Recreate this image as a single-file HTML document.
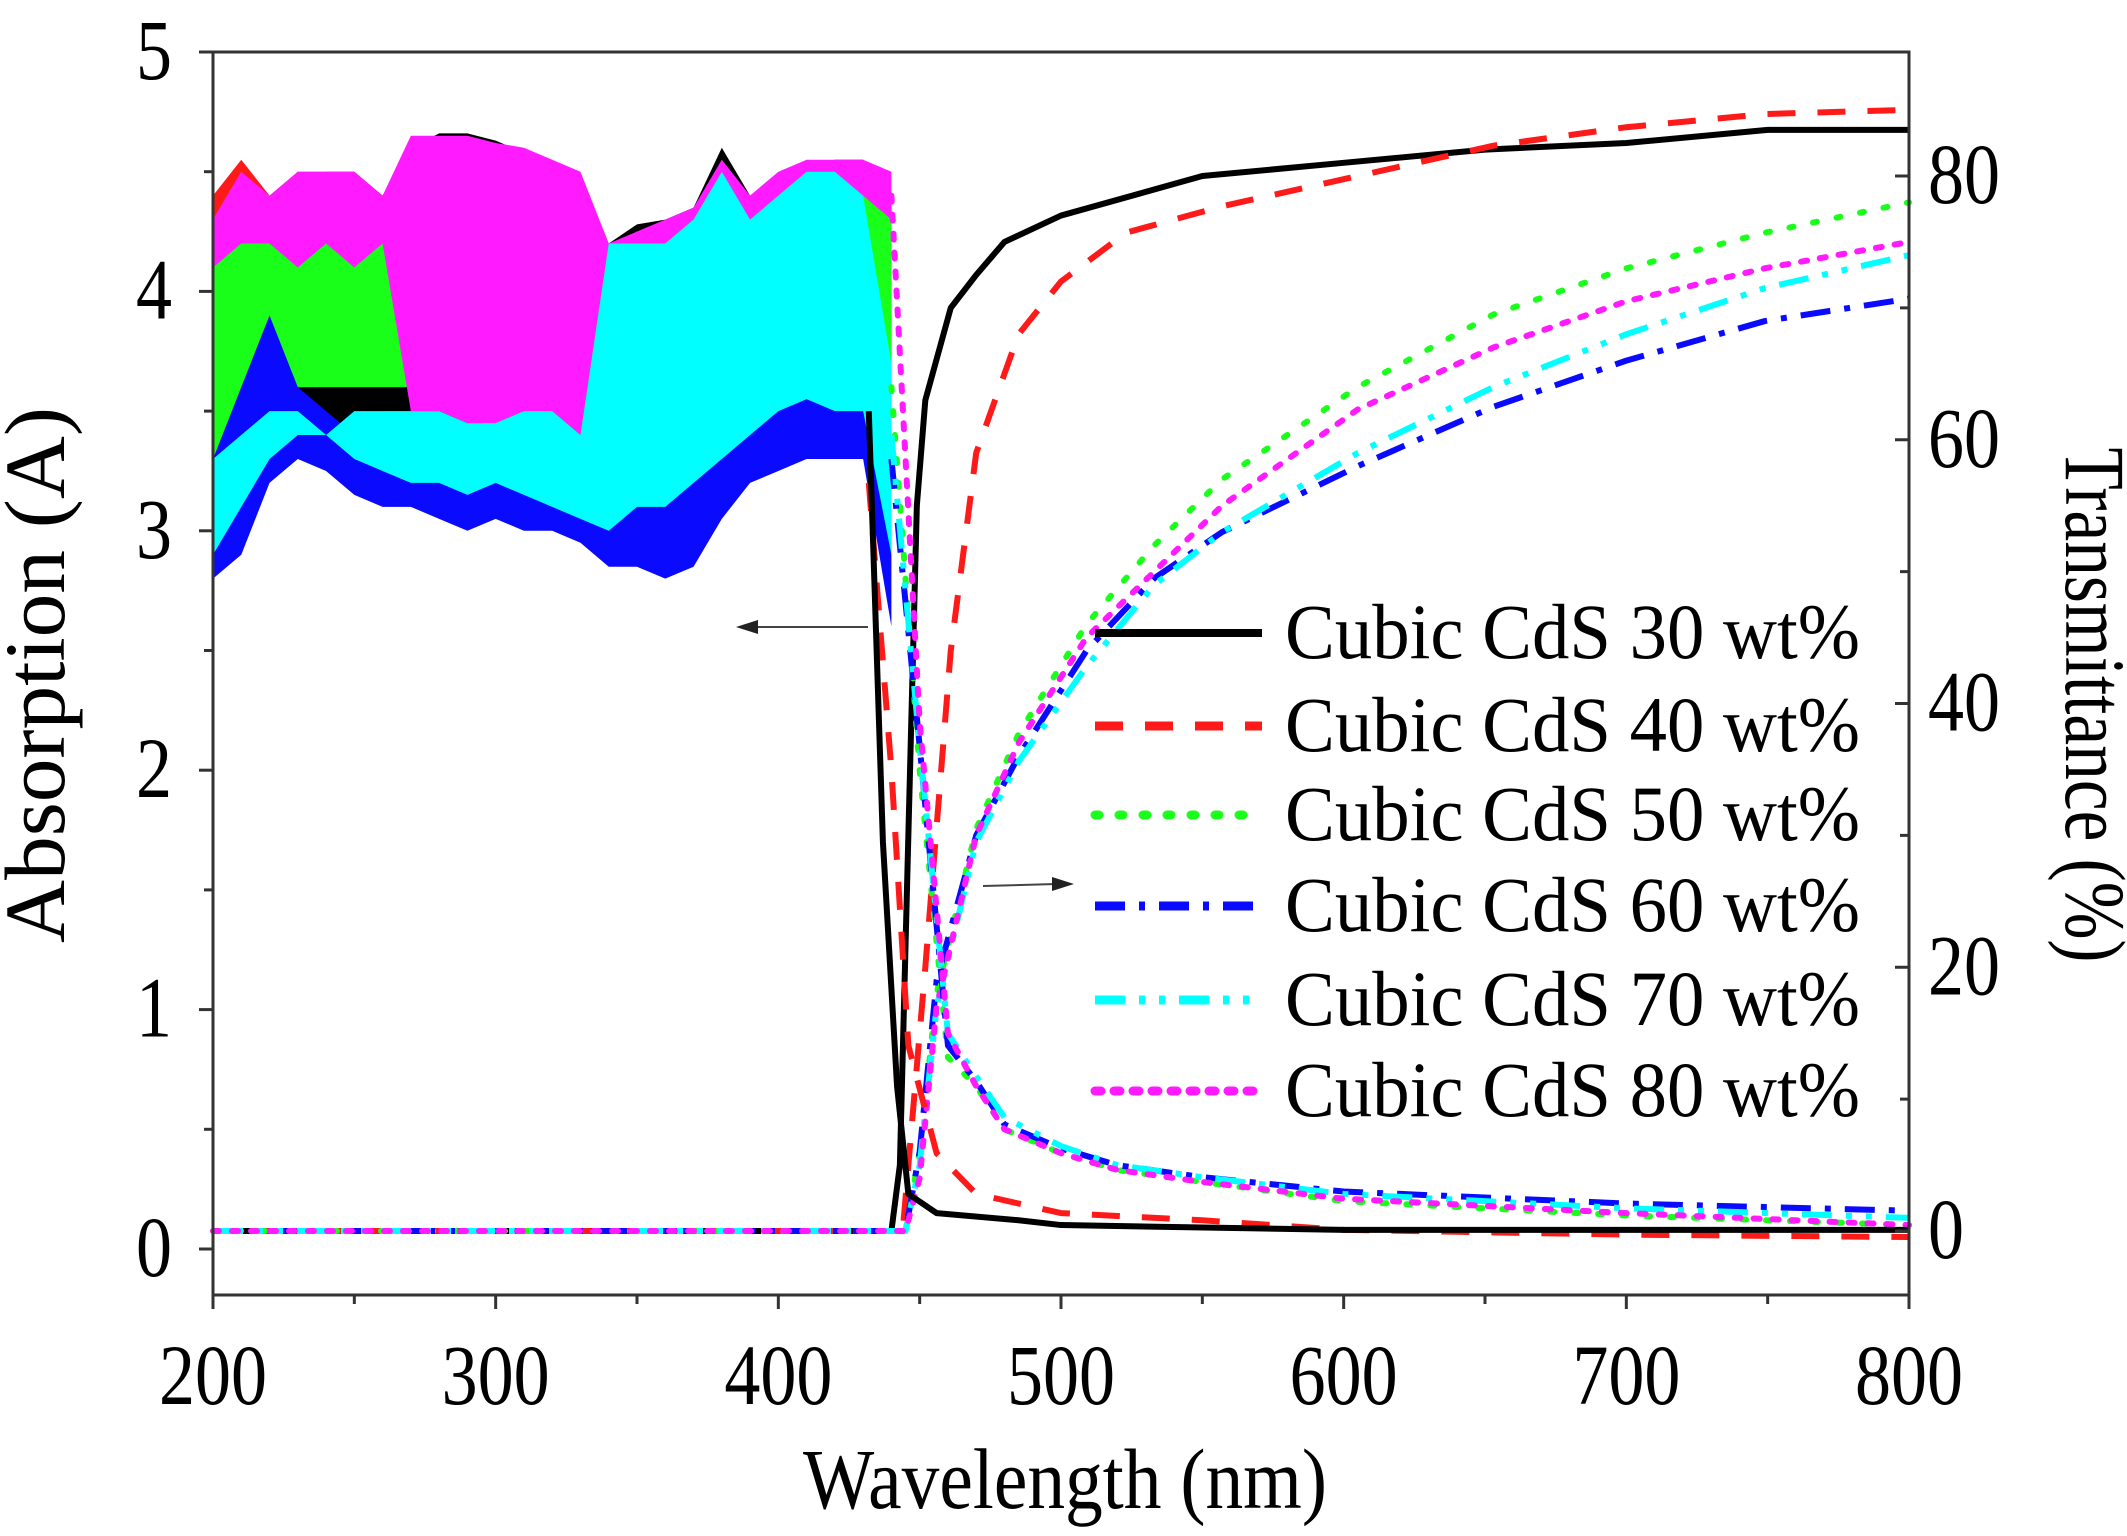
<!DOCTYPE html>
<html><head><meta charset="utf-8"><style>
html,body{margin:0;padding:0;background:#fff;}
svg{display:block;}
text{font-family:"Liberation Serif",serif;fill:#000;}
</style></head><body>
<svg id="chart" width="2127" height="1536" viewBox="0 0 2127 1536" xmlns="http://www.w3.org/2000/svg">
<g id="noise"></g>
<g id="lines"></g>
<g id="axes"></g>
<g id="legend"></g>
</svg>
<script>
const names = ["Cubic CdS 30 wt%","Cubic CdS 40 wt%","Cubic CdS 50 wt%","Cubic CdS 60 wt%","Cubic CdS 70 wt%","Cubic CdS 80 wt%"];
const xTicks = [200,300,400,500,600,700,800];
const yLeftTicks = [0,1,2,3,4,5];
const yRightTicks = [0,20,40,60,80];
// noisy absorption envelopes (A)
const noiseW = [200,210,220,230,240,250,260,270,280,290,300,310,320,330,340,350,360,370,380,390,400,410,420,430,440];
const blackLo = [3.2,3.3,3.4,3.4,3.4,3.3,3.3,3.3,3.3,3.2,3.2,3.2,3.2,3.1,3.0,3.1,3.1,3.2,3.3,3.4,3.5,3.5,3.5,3.5,3.2];
const blackHi = [4.2,4.5,4.3,4.4,4.5,4.5,4.4,4.6,4.66,4.66,4.63,4.58,4.53,4.48,4.2,4.28,4.3,4.35,4.6,4.4,4.48,4.53,4.55,4.55,4.4];
const redLo = [3.4,3.5,3.6,3.6,3.6,3.6,3.6,3.6,3.5,3.5,3.4,3.5,3.4,3.4,3.6,3.7,3.7,3.8,3.9,3.9,3.9,4.0,4.0,3.9,3.6];
const redHi = [4.4,4.55,4.4,4.5,4.5,4.5,4.4,4.6,4.6,4.6,4.6,4.55,4.5,4.45,4.15,4.25,4.25,4.3,4.5,4.35,4.45,4.5,4.5,4.5,4.3];
const greenLo = [3.3,3.4,3.5,3.6,3.6,3.6,3.6,3.6,3.6,3.6,3.6,3.6,3.6,3.6,3.6,3.8,3.8,3.8,4.0,4.0,4.0,4.0,4.0,4.0,3.6];
const greenHi = [4.3,4.5,4.35,4.45,4.5,4.5,4.4,4.6,4.6,4.6,4.55,4.5,4.5,4.4,4.15,4.25,4.25,4.3,4.55,4.35,4.45,4.5,4.5,4.5,4.3];
const magLo = [4.1,4.2,4.2,4.1,4.2,4.1,4.2,3.5,3.5,3.45,3.45,3.5,3.5,3.4,3.9,4.1,4.2,4.3,4.4,4.3,4.3,4.4,4.4,4.4,4.3];
const magHi = [4.3,4.5,4.4,4.5,4.5,4.5,4.4,4.65,4.65,4.65,4.62,4.6,4.55,4.5,4.2,4.25,4.3,4.35,4.55,4.4,4.5,4.55,4.55,4.55,4.5];
const blueLo = [2.8,2.9,3.2,3.3,3.25,3.15,3.1,3.1,3.05,3.0,3.05,3.0,3.0,2.95,2.85,2.85,2.8,2.85,3.05,3.2,3.25,3.3,3.3,3.3,2.6];
const blueHi = [3.3,3.6,3.9,3.6,3.5,3.4,3.5,3.5,3.4,3.3,3.3,3.3,3.3,3.3,3.2,3.3,3.3,3.3,3.4,3.5,3.6,3.6,3.6,3.6,3.0];
const cyanLo = [2.9,3.1,3.3,3.4,3.4,3.3,3.25,3.2,3.2,3.15,3.2,3.15,3.1,3.05,3.0,3.1,3.1,3.2,3.3,3.4,3.5,3.55,3.5,3.5,2.9];
const cyanHi = [3.3,3.4,3.5,3.5,3.4,3.5,3.5,3.5,3.5,3.45,3.45,3.5,3.5,3.4,4.2,4.2,4.2,4.3,4.5,4.3,4.4,4.5,4.5,4.4,3.7];
// absorption after edge (A)
const a30W = [200,432,437,442,446,456,485,500,600,800];
const a30A = [3.5,3.5,1.7,0.68,0.23,0.15,0.12,0.1,0.08,0.08];
const a40W = [200,432,440,446,456,470,500,550,600,700,800];
const a40A = [3.6,3.2,2.0,0.85,0.4,0.23,0.15,0.12,0.08,0.06,0.05];
const aOtherW = [200,440,450,460,470,480,500,520,550,600,700,800];
const a50A = [3.6,3.6,2.0,0.8,0.68,0.5,0.4,0.33,0.28,0.2,0.14,0.1];
const a60A = [3.3,3.3,2.1,0.85,0.7,0.52,0.42,0.35,0.3,0.24,0.19,0.16];
const a70A = [3.4,3.4,2.1,0.9,0.72,0.55,0.43,0.35,0.3,0.23,0.17,0.13];
const a80A = [3.8,4.4,2.2,0.9,0.68,0.5,0.4,0.33,0.28,0.21,0.15,0.1];
// transmittance (%)
const t30W = [200,440,443,446,449,452,461,470,480,500,550,600,650,700,750,800];
const t30T = [0,0,5,30,55,63,70,72.5,75,77,80,81,82,82.5,83.5,83.5];
const t40W = [200,444,452,461,470,485,500,523,557,605,653,700,749,797];
const t40T = [0,0,20,44,59,68,72,75.7,77.7,80,82.3,83.7,84.7,85];
const tOtherW = [200,445,450,456,470,485,509,533,557,605,653,700,749,800];
const t50T = [0,0,6,18,30.5,37.7,46,52,57,64,69.5,73,75.7,78];
const t60T = [0,0,6,19,30,36,44,49.5,53,58,62.5,66,69,70.7];
const t70T = [0,0,5,17,29.5,35.6,42.8,49,53,59,64,68,71.5,74];
const t80T = [0,0,4,17,30,37,45,50,55,62.3,67,70.5,73,75];

const X0=213,X1=1909,YA0=1249,YA5=52,YT0=1231,YT80=176,TOP=52,BOT=1295;
const xs = w => X0+(w-200)*(X1-X0)/600;
const yA = a => YA0-(a)*(YA0-YA5)/5;
const yT = t => YT0-t*(YT0-YT80)/80;
const NS="http://www.w3.org/2000/svg";
function mk(tag,parent,attrs){const e=document.createElementNS(NS,tag);for(const k in attrs)e.setAttribute(k,attrs[k]);parent.appendChild(e);return e;}

const noise=document.getElementById('noise');
const bands=[["#000",blackLo,blackHi,"black"],["#ff1a1a",redLo,redHi,"red"],["#1aff1a",greenLo,greenHi,"green"],["#ff1aff",magLo,magHi,"magenta"],["#0a0aff",blueLo,blueHi,"blue"],["#00ffff",cyanLo,cyanHi,"cyan"]];
bands.forEach(b=>{
  let pts=noiseW.map((w,i)=>xs(w)+","+yA(b[2][i]));
  pts=pts.concat(noiseW.map((w,i)=>xs(w)+","+yA(b[1][i])).reverse());
  const p=mk('polygon',noise,{points:pts.join(" "),fill:b[0]});
  
  
});

const lines=document.getElementById('lines');
const styles=[
 {c:"#000",d:"",cap:"butt"},
 {c:"#ff1a1a",d:"28 22",cap:"butt"},
 {c:"#1aff1a",d:"4 20",cap:"round"},
 {c:"#0a0aff",d:"30 14 6 14",cap:"butt"},
 {c:"#00ffff",d:"30 14 6 14 6 14",cap:"butt"},
 {c:"#ff1aff",d:"6 13",cap:"round"}];
function drawLine(W,V,yf,s,name){
  const p=mk('polyline',lines,{points:W.map((w,i)=>xs(w)+","+yf(V[i])).join(" "),fill:"none",stroke:s.c,"stroke-width":6,"stroke-dasharray":s.d,"stroke-linecap":s.cap,"stroke-linejoin":"round"});
  
  
}
const absSeries=[[a30W,a30A],[a40W,a40A],[aOtherW,a50A],[aOtherW,a60A],[aOtherW,a70A],[aOtherW,a80A]];
const trSeries=[[t30W,t30T],[t40W,t40T],[tOtherW,t50T],[tOtherW,t60T],[tOtherW,t70T],[tOtherW,t80T]];
[0,1,2,3,4,5].forEach(i=>{
  drawLine(trSeries[i][0],trSeries[i][1],yT,styles[i],'transmittance-line-'+(30+i*10));
});
[2,3,4,5,1,0].forEach(i=>{
  const aw=absSeries[i][0].slice(1), av=absSeries[i][1].slice(1);
  drawLine(aw,av,yA,styles[i],'absorption-line-'+(30+i*10));
});

// arrows
const axes=document.getElementById('axes');
let ar=mk('line',axes,{x1:868,y1:627,x2:752,y2:627,stroke:"#444","stroke-width":2});

mk('polygon',axes,{points:"736,627 758,620 758,634",fill:"#222"});
ar=mk('line',axes,{x1:983,y1:886,x2:1056,y2:884,stroke:"#444","stroke-width":2});

mk('polygon',axes,{points:"1074,884 1052,877 1052,891",fill:"#222"});

// frame
const fr=mk('rect',axes,{x:X0,y:TOP,width:X1-X0,height:BOT-TOP,fill:"none",stroke:"#333","stroke-width":3});

for(let w=200;w<=800;w+=50){const big=w%100===0;mk('line',axes,{x1:xs(w),y1:BOT,x2:xs(w),y2:BOT+(big?14:9),stroke:"#333","stroke-width":3});}
xTicks.forEach(w=>{const t=mk('text',axes,{x:xs(w),y:1404,"font-size":86,"text-anchor":"middle",textLength:108,lengthAdjust:"spacingAndGlyphs"});t.textContent=w;
 });
for(let a=0;a<=5;a+=0.5){const big=a%1===0;mk('line',axes,{x1:X0,y1:yA(a),x2:X0-(big?14:9),y2:yA(a),stroke:"#333","stroke-width":3});}
yLeftTicks.forEach(a=>{const t=mk('text',axes,{x:172,y:yA(a)+27,"font-size":86,"text-anchor":"end",textLength:36,lengthAdjust:"spacingAndGlyphs"});t.textContent=a;
 });
for(let v=0;v<=80;v+=10){const big=v%20===0;mk('line',axes,{x1:X1,y1:yT(v),x2:X1-(big?14:9),y2:yT(v),stroke:"#333","stroke-width":3});}
yRightTicks.forEach(v=>{const t=mk('text',axes,{x:1928,y:yT(v)+27,"font-size":86,textLength:(v===0?36:72),lengthAdjust:"spacingAndGlyphs"});t.textContent=v;
 });
let tt=mk('text',axes,{x:1065,y:1508,"font-size":86,"text-anchor":"middle",textLength:524,lengthAdjust:"spacingAndGlyphs"});tt.textContent="Wavelength (nm)";

tt=mk('text',axes,{x:0,y:0,"font-size":86,"text-anchor":"middle",textLength:536,lengthAdjust:"spacingAndGlyphs",transform:"translate(64,675) rotate(-90)"});tt.textContent="Absorption (A)";

tt=mk('text',axes,{x:0,y:0,"font-size":86,"text-anchor":"middle",textLength:515,lengthAdjust:"spacingAndGlyphs",transform:"translate(2066,705) rotate(90)"});tt.textContent="Transmittance (%)";


// legend
const lg=document.getElementById('legend');
const rowsY=[633,726,815,906,1000,1091];
names.forEach((n,i)=>{
  const g=mk('g',lg,{});
  
  
  mk('line',g,{x1:1095,y1:rowsY[i],x2:1262,y2:rowsY[i],stroke:styles[i].c,"stroke-width":i===0?8:9,"stroke-dasharray":styles[i].d,"stroke-linecap":styles[i].cap});
  const t=mk('text',g,{x:1285,y:rowsY[i]+25,"font-size":78,textLength:575,lengthAdjust:"spacingAndGlyphs"});t.textContent=n;
});
</script>
</body></html>
